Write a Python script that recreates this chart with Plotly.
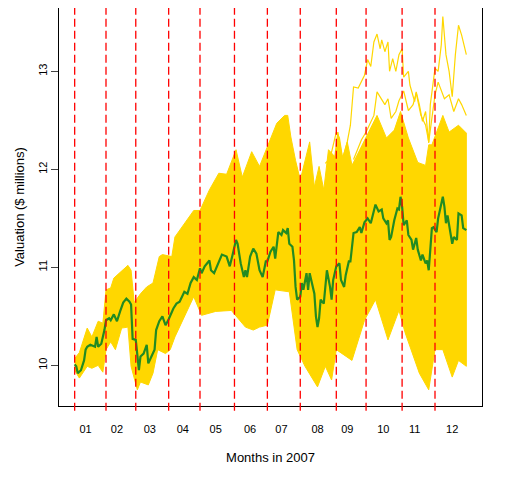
import plotly.graph_objects as go

# trading day index (0 = first trading day of 2007) and valuation in $ millions
green_day = [0, 1, 2, 4, 6, 7, 8, 10, 13, 14, 15, 17, 19, 20, 22, 23, 25, 27, 29, 31,
             33, 35, 36, 37, 39, 40, 41, 42, 44, 46, 47, 49, 51, 52, 54, 56, 58, 60, 63, 65,
             67, 70, 72, 74, 76, 78, 80, 81, 83, 86, 87, 89, 91, 94, 97, 99, 101, 103, 104, 106,
             108, 109, 110, 112, 114, 116, 118, 120, 122, 123, 125, 127, 128, 130, 132, 133, 135, 136, 137, 139,
             140, 141, 142, 144, 145, 146, 148, 149, 150, 152, 153, 154, 155, 156, 157, 159, 160, 161, 163, 164,
             165, 166, 167, 169, 170, 172, 173, 175, 176, 178, 180, 182, 183, 185, 187, 189, 191, 192, 194, 196,
             197, 199, 200, 201, 202, 203, 204, 206, 207, 208, 209, 210, 212, 213, 215, 216, 218, 219, 221, 222,
             224, 225, 226, 227, 228, 229, 231, 232, 234, 235, 236, 237, 238, 240, 241, 242, 244, 245, 247, 248,
             250]
green_val = [10.01, 9.99, 9.92, 9.95, 10.05, 10.16, 10.19, 10.21, 10.19, 10.29, 10.19, 10.22, 10.36, 10.46, 10.48, 10.46, 10.52, 10.45, 10.55, 10.64,
             10.68, 10.65, 10.62, 10.27, 10.26, 10.09, 9.95, 10.09, 10.12, 10.21, 10.02, 10.09, 10.16, 10.36, 10.45, 10.50, 10.41, 10.47, 10.58, 10.63,
             10.65, 10.75, 10.73, 10.84, 10.90, 10.87, 10.99, 10.94, 11.01, 11.07, 10.97, 10.94, 11.01, 11.13, 11.11, 11.01, 11.14, 11.28, 11.24, 11.04,
             10.90, 10.97, 10.90, 11.11, 11.19, 11.14, 10.97, 10.90, 11.06, 11.06, 11.16, 11.21, 11.09, 11.36, 11.33, 11.38, 11.35, 11.40, 11.24, 11.21,
             11.07, 10.80, 10.67, 10.70, 10.84, 10.77, 10.94, 10.77, 10.94, 10.80, 10.73, 10.50, 10.39, 10.48, 10.67, 10.63, 10.77, 10.97, 10.80, 10.67,
             10.87, 10.94, 11.01, 11.04, 10.87, 10.80, 10.92, 11.06, 11.06, 11.35, 11.36, 11.41, 11.35, 11.46, 11.50, 11.45, 11.57, 11.64, 11.57, 11.59,
             11.50, 11.45, 11.48, 11.28, 11.31, 11.40, 11.48, 11.60, 11.59, 11.72, 11.62, 11.43, 11.48, 11.33, 11.28, 11.18, 11.30, 11.18, 11.07, 11.13,
             11.04, 11.07, 10.97, 11.18, 11.40, 11.41, 11.36, 11.50, 11.65, 11.72, 11.62, 11.45, 11.53, 11.35, 11.24, 11.31, 11.28, 11.55, 11.53, 11.40,
             11.38]

# outer edges of the bootstrapped paths
hi_day = [0, 3, 8, 11, 15, 18, 20, 23, 25, 30, 34, 36, 38, 42, 46, 50, 54, 56, 62, 64,
          70, 76, 80, 86, 92, 97, 103, 107, 113, 118, 123, 129, 134, 136, 138, 141, 144, 150, 153, 156,
          159, 162, 166, 168, 171, 174, 177, 182, 187, 193, 199, 204, 208, 213, 219, 224, 226, 228, 235, 239,
          245, 250]
hi_val = [10.07, 10.13, 10.38, 10.29, 10.45, 10.43, 10.77, 10.79, 10.89, 10.96, 11.02, 10.97, 10.64, 10.73, 10.80, 10.84, 11.11, 11.13, 11.11, 11.31,
          11.45, 11.58, 11.58, 11.79, 11.96, 11.95, 12.20, 11.92, 12.18, 12.03, 12.23, 12.47, 12.55, 12.55, 12.33, 12.09, 11.89, 12.28, 11.82, 12.03,
          11.79, 12.20, 12.13, 12.38, 12.11, 12.28, 12.04, 12.20, 12.35, 12.55, 12.32, 12.40, 12.59, 12.32, 12.07, 12.04, 12.25, 12.25, 12.55, 12.38,
          12.45, 12.37]
lo_day = [0, 3, 8, 11, 15, 18, 20, 23, 26, 30, 34, 36, 40, 42, 47, 50, 53, 58, 61, 64,
          70, 76, 81, 90, 100, 109, 114, 118, 123, 128, 137, 142, 147, 155, 160, 164, 167, 177, 185, 192,
          200, 207, 211, 220, 226, 230, 235, 241, 245, 250]
lo_val = [9.95, 9.87, 9.99, 9.97, 10.00, 9.93, 10.16, 10.24, 10.16, 10.38, 10.39, 9.99, 9.75, 9.83, 9.80, 9.92, 10.16, 10.12, 10.16, 10.29,
          10.50, 10.70, 10.51, 10.55, 10.56, 10.39, 10.36, 10.39, 10.41, 10.77, 10.75, 10.16, 9.99, 9.78, 9.99, 9.85, 10.16, 10.05, 10.46, 10.67,
          10.26, 10.56, 10.33, 9.92, 9.75, 10.16, 10.16, 9.88, 10.05, 9.99]

# two paths that break away above the pack
top_day = [160, 163, 167, 169, 171, 174, 176, 178, 181, 183, 185, 187, 189, 191, 193, 195, 196, 198, 200, 201,
           203, 205, 207, 209, 210, 213, 214, 217, 218, 220, 222, 224, 226, 227, 230, 232, 234, 235, 237, 239,
           241, 243, 245, 247, 250]
top_val = [12.06, 12.11, 12.38, 12.32, 12.11, 12.28, 12.45, 12.84, 12.83, 12.89, 12.96, 13.12, 13.05, 13.30, 13.38, 13.23, 13.32, 13.20, 13.30, 13.00,
           13.13, 13.00, 13.17, 13.23, 12.94, 13.00, 12.86, 12.69, 12.79, 12.66, 12.49, 12.59, 12.27, 12.66, 13.03, 13.00, 13.27, 13.56, 13.17, 13.00,
           12.74, 13.17, 13.47, 13.37, 13.17]
second_day = [178, 183, 186, 188, 191, 193, 196, 198, 200, 202, 205, 207, 210, 213, 216, 218, 221, 224, 226, 230,
              232, 236, 239, 242, 245, 247, 250]
second_val = [12.10, 12.30, 12.38, 12.45, 12.55, 12.79, 12.72, 12.66, 12.72, 12.52, 12.59, 12.70, 12.80, 12.60, 12.66, 12.78, 12.55, 12.45, 12.28, 12.76,
              12.89, 12.72, 12.76, 12.59, 12.72, 12.66, 12.55]

month_start = [0, 20, 39, 60, 80, 102, 123, 144, 167, 186, 209, 230]
month_mid = [7, 27, 48, 69, 90, 112, 132, 155, 174, 197, 217, 241]
month_lab = ['01', '02', '03', '04', '05', '06', '07', '08', '09', '10', '11', '12']

gold = '#FFD700'

fig = go.Figure()

fig.add_trace(go.Scatter(x=hi_day + lo_day[::-1], y=hi_val + lo_val[::-1],
                         fill='toself', fillcolor=gold, mode='lines',
                         line=dict(color=gold, width=1), hoverinfo='skip'))
for d, v in [(top_day, top_val), (second_day, second_val)]:
    fig.add_trace(go.Scatter(x=d, y=v, mode='lines', line=dict(color=gold, width=1.2)))

fig.add_trace(go.Scatter(x=green_day, y=green_val, mode='lines',
                         line=dict(color='#228B22', width=2.2)))

for m in month_start:
    fig.add_shape(type='line', x0=m, x1=m, xref='x', yref='paper', y0=-0.012, y1=1,
                  line=dict(color='#FF0000', width=1.3, dash='8px,4px'), layer='above')

# page body adds an 8px offset, so the figure is a little smaller than the window
fig.update_layout(
    width=504, height=472,
    margin=dict(l=51, r=30, t=0, b=74),
    plot_bgcolor='white', paper_bgcolor='white',
    showlegend=False,
    font=dict(family='Liberation Sans, Arial, sans-serif', size=11, color='black'),
    xaxis=dict(range=[-10, 260], showgrid=False, zeroline=False,
               showline=True, mirror=True, linecolor='black', linewidth=1,
               tickvals=month_mid, ticktext=month_lab, ticks='',
               ticklabelstandoff=13, automargin=False,
               title=dict(text='Months in 2007', standoff=18)),
    yaxis=dict(range=[9.585, 13.646], showgrid=False, zeroline=False,
               showline=True, mirror=True, linecolor='black', linewidth=1,
               tickvals=[10, 11, 12, 13], ticks='outside', ticklen=7, tickangle=-90,
               automargin=False,
               title=dict(text='Valuation ($ millions)', standoff=9)),
)

fig.write_html("out.html")
